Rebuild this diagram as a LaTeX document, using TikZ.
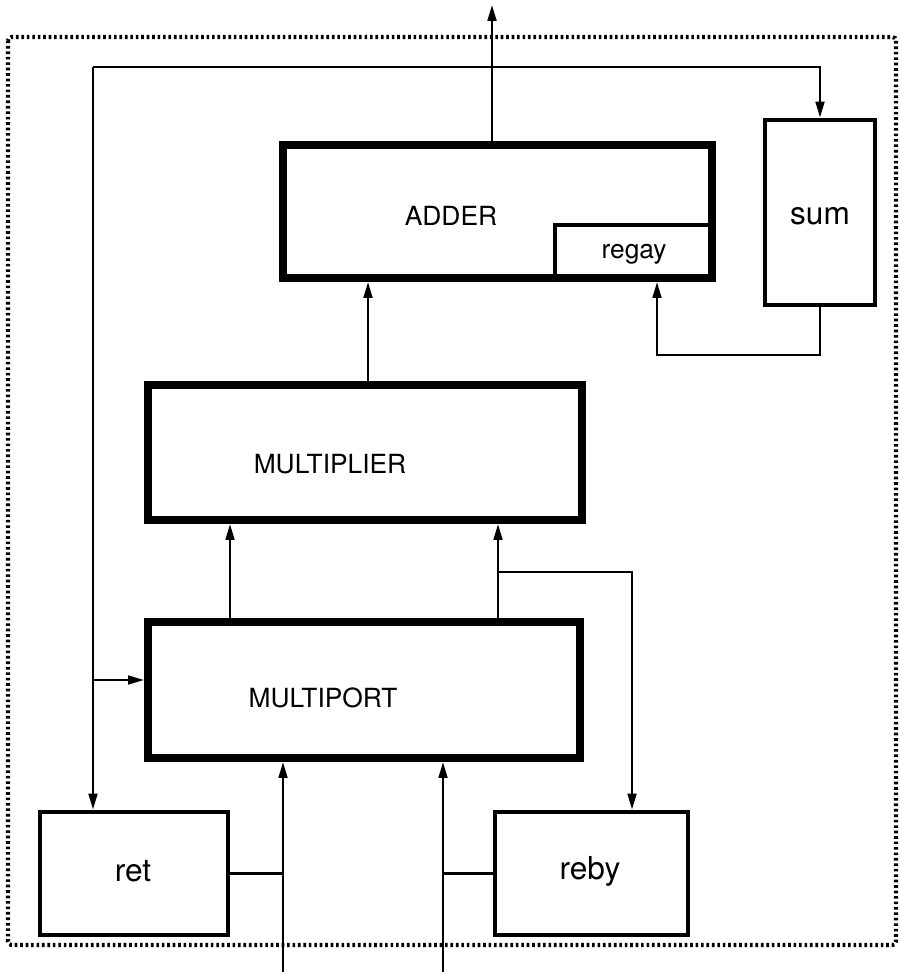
\documentclass[tikz,border=0pt]{standalone}
\usepackage{fontspec}
\setmainfont{TeX Gyre Heros}
\usetikzlibrary{positioning, arrows.meta, calc}

\tikzset{
    boxsize/.style 2 args={minimum width=#1*0.02cm, minimum height=#2*0.02cm, inner sep=0pt},
    heavybox/.style={draw, line width=4.6pt},
    midbox/.style={draw, line width=2.8pt},
    flow/.style={line width=1.3pt, -{Triangle[length=9pt,width=5pt]}},
    wire/.style={line width=1.3pt},
    boxtext/.style={font=\fontsize{15}{17}\selectfont},
    bigtext/.style={font=\fontsize{18}{20}\selectfont}
}

\begin{document}
\begin{tikzpicture}[x=0.02cm, y=-0.02cm]
    \useasboundingbox (0,0) rectangle (900,972);
    % outer dotted frame
    \draw[line width=2.3pt, dash pattern=on 1.5pt off 1.6pt, rounded corners=2pt] (8,37) rectangle (896,945);

    % blocks
    \node[heavybox, boxsize={429}{133}] (adder) at (497.5,211.5) {};
    \node[heavybox, boxsize={434}{135}] (mult) at (365,452.5) {};
    \node[heavybox, boxsize={432}{136}] (mport) at (364,690) {};
    \node[midbox, boxsize={110}{185}] (sum) at (820,212.5) {};
    \node[midbox, boxsize={188}{123}] (ret) at (134,873.5) {};
    \node[midbox, boxsize={193}{123}] (reby) at (591.5,873.5) {};
    % register inside the adder
    \draw[line width=1.8pt] (adder.south -| 555,0) |- (adder.east |- 0,225);

    % labels
    \node[boxtext] (tadder) at (451,216) {ADDER};
    \node[boxtext] (tregay) at (634,254) {regay};
    \node[boxtext] (tmult) at (330,464) {MULTIPLIER};
    \node[boxtext] (tmport) at (323,698) {MULTIPORT};
    \node[bigtext] (tsum) at (820,216) {sum};
    \node[bigtext] (tret) at (133,871) {ret};
    \node[bigtext] (treby) at (590,871) {reby};

    % free ends and corners
    \coordinate (out) at (492,5);
    \coordinate (tl) at (93,67);
    \coordinate (jl) at (93,680);
    \coordinate (a1) at (230,572);
    \coordinate (a2) at (498,572);
    \coordinate (b) at (632,572);
    \coordinate (fb) at (657,355);
    \coordinate (in1) at (283,972);
    \coordinate (in2) at (443,972);

    % connectors
    \draw[flow] (adder.north -| out) -- (out);
    \draw[flow] (tl) -| (sum.north);
    \draw[flow] (tl) -- (tl |- ret.north);
    \draw[flow] (jl) -- (jl -| mport.west);
    \draw[flow] (sum.south) |- (fb) -- (fb |- adder.south);
    \draw[flow] (mult.north -| 368,0) -- (adder.south -| 368,0);
    \draw[flow] (mport.north -| a1) -- (mult.south -| a1);
    \draw[flow] (mport.north -| a2) -- (mult.south -| a2);
    \draw[flow] (a2) -- (b) -- (b |- reby.north);
    \draw[flow] (in1) -- (in1 |- mport.south);
    \draw[flow] (in2) -- (in2 |- mport.south);
    \draw[wire] (ret.east) -- (ret.east -| in1);
    \draw[wire] (reby.west) -- (reby.west -| in2);
\end{tikzpicture}
\end{document}
